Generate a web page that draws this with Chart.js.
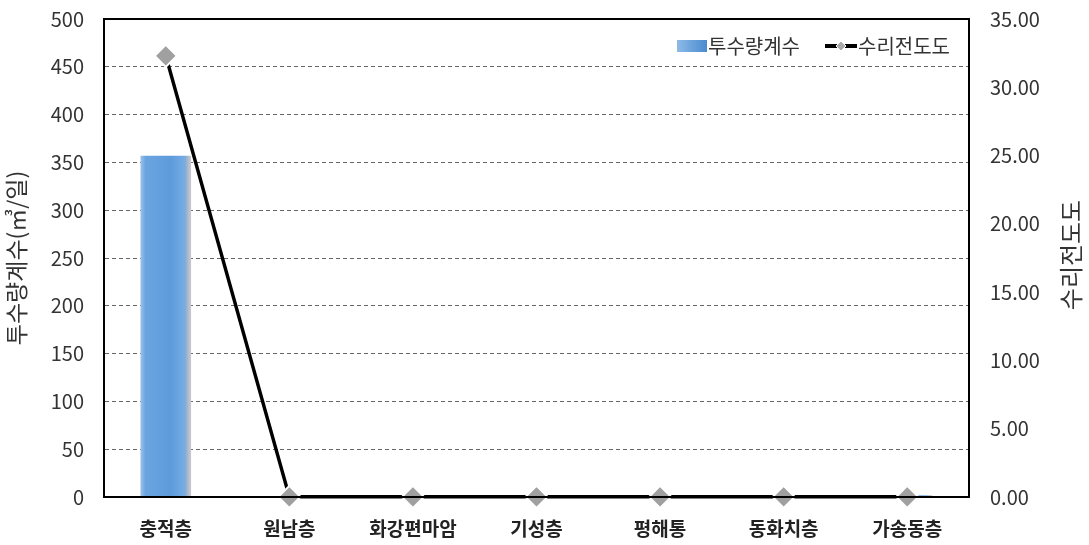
<!DOCTYPE html>
<html>
<head>
<meta charset="utf-8">
<script src="https://cdn.jsdelivr.net/npm/chart.js@4"></script>
<style>
  html, body { margin: 0; padding: 0; background: #fff; }
  #wrap { width: 1089px; height: 545px; }
</style>
</head>
<body>
<div id="wrap"><canvas id="chart-1" width="1089" height="545"></canvas></div>
<script>
const categories = ['충적층', '원남층', '화강편마암', '기성층', '평해통', '동화치층', '가송동층'];
const permeability = [357, 0.5, 0.3, 0.2, 0.4, 2.2, 1.8];
const conductivity = [32.3, 0.01, 0.01, 0.01, 0.01, 0.01, 0.01];
const leftTicks = [0, 50, 100, 150, 200, 250, 300, 350, 400, 450, 500];
const rightTicks = [0, 5, 10, 15, 20, 25, 30, 35];

const font = "'Noto Sans CJK KR', 'Noto Sans', sans-serif";
const barPct = 0.41;

function barFill(context) {
  const chart = context.chart;
  const xs = chart.scales.x;
  if (!xs || !chart.chartArea) return '#5b9bd5';
  const cx = xs.getPixelForValue(context.dataIndex);
  const w = (chart.chartArea.right - chart.chartArea.left) / categories.length * barPct;
  const x0 = cx - w / 2;
  const g = chart.ctx.createLinearGradient(x0, 0, x0 + w, 0);
  g.addColorStop(0, '#9cc3ea');
  g.addColorStop(0.1, '#6aa5e0');
  g.addColorStop(0.6, '#5d9bdc');
  g.addColorStop(0.88, '#77ade3');
  g.addColorStop(0.93, '#a9b7c6');
  g.addColorStop(1, '#c9cdd2');
  return g;
}

function noVPad(axis) {
  axis.paddingTop = 0;
  axis.paddingBottom = 0;
}

const extras = {
  id: 'extras',
  afterDraw(chart) {
    const c = chart.ctx;
    const a = chart.chartArea;
    c.save();
    c.strokeStyle = '#000';
    c.lineWidth = 2;
    c.strokeRect(a.left, a.top, a.right - a.left, a.bottom - a.top);

    // right axis title, reading bottom to top
    c.fillStyle = '#333';
    c.font = '24px ' + font;
    c.textAlign = 'center';
    c.textBaseline = 'middle';
    c.translate(1071, 255);
    c.rotate(-Math.PI / 2);
    c.fillText('수리전도도', 0, 0);
    c.restore();

    // legend inside plot area
    c.save();
    c.font = '20px ' + font;
    c.textBaseline = 'middle';
    const y = 46;
    let x = 677;
    const g = c.createLinearGradient(x, 0, x + 30, 0);
    g.addColorStop(0, '#8dbbe6');
    g.addColorStop(1, '#4a8ad0');
    c.fillStyle = g;
    c.fillRect(x, y - 6, 30, 12);
    c.fillStyle = '#333';
    c.fillText('투수량계수', x + 31, y);
    x = 825;
    c.strokeStyle = '#000';
    c.lineWidth = 4;
    c.beginPath(); c.moveTo(x, y); c.lineTo(x + 32, y); c.stroke();
    c.fillStyle = '#aaa';
    c.strokeStyle = '#fff';
    c.lineWidth = 1;
    c.beginPath();
    c.moveTo(x + 16, y - 5); c.lineTo(x + 21, y); c.lineTo(x + 16, y + 5); c.lineTo(x + 11, y);
    c.closePath(); c.fill(); c.stroke();
    c.fillStyle = '#333';
    c.fillText('수리전도도', x + 33, y);
    c.restore();
  }
};

const ctx1 = document.getElementById('chart-1').getContext('2d');

const myChart = new Chart(ctx1, {
  type: 'bar',
  data: {
    labels: categories,
    datasets: [{
      type: 'line',
      label: '수리전도도',
      data: conductivity,
      yAxisID: 'y2',
      borderColor: '#000',
      borderWidth: 3.5,
      pointStyle: 'rectRot',
      pointRadius: 11,
      pointBackgroundColor: '#a0a0a0',
      pointBorderColor: '#fff',
      pointBorderWidth: 2,
      tension: 0,
      clip: false,
      order: 0
    }, {
      label: '투수량계수',
      data: permeability,
      yAxisID: 'y',
      backgroundColor: barFill,
      barPercentage: barPct,
      categoryPercentage: 1,
      order: 1
    }]
  },
  options: {
    responsive: false,
    animation: false,
    layout: { padding: { left: 0, right: 0, top: 19, bottom: 0 } },
    plugins: {
      legend: { display: false },
      tooltip: { enabled: false }
    },
    scales: {
      x: {
        grid: { display: false },
        border: { color: '#000', width: 2 },
        afterFit: (axis) => { axis.height = 48; },
        ticks: { color: '#222', font: { family: font, size: 19, weight: 'bold' }, padding: 12 }
      },
      y: {
        position: 'left',
        min: 0,
        max: 500,
        afterBuildTicks: (axis) => { axis.ticks = leftTicks.map(v => ({ value: v })); },
        afterFit: (axis) => { axis.width = 104; noVPad(axis); },
        grid: { color: '#666', lineWidth: 1, drawTicks: false },
        border: { color: '#000', width: 2, dash: [4, 3] },
        ticks: { color: '#333', font: { family: font, size: 20 }, padding: 20 },
        title: { display: true, text: '투수량계수(㎥/일)', color: '#333', font: { family: font, size: 23 }, padding: 2 }
      },
      y2: {
        position: 'right',
        min: 0,
        max: 35,
        afterBuildTicks: (axis) => { axis.ticks = rightTicks.map(v => ({ value: v })); },
        afterFit: (axis) => { axis.width = 120; noVPad(axis); },
        grid: { display: false, drawTicks: false },
        border: { color: '#000', width: 2 },
        ticks: { color: '#333', font: { family: font, size: 20 }, padding: 21, callback: v => v.toFixed(2) }
      }
    }
  },
  plugins: [extras]
});
</script>
</body>
</html>
